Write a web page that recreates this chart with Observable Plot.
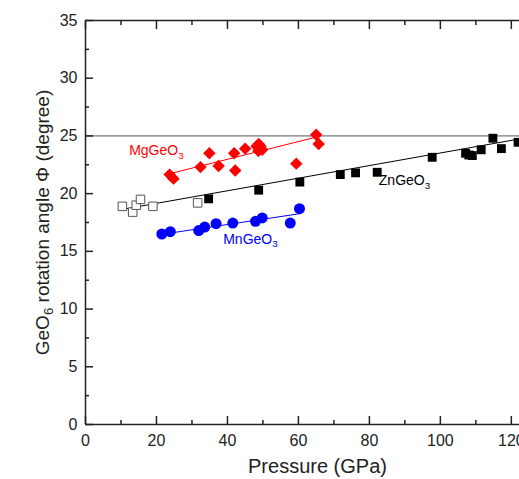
<!DOCTYPE html>
<html><head><meta charset="utf-8">
<script src="https://cdn.jsdelivr.net/npm/d3@7"></script>
<script src="https://cdn.jsdelivr.net/npm/@observablehq/plot@0.6"></script>
<style>body{margin:0;background:#fff} svg{display:block}</style>
</head><body><div id="chart"></div>
<script>
// MgGeO3 (red diamonds)
const mgP   = [23.7, 24.8, 32.4, 34.9, 37.5, 41.9, 42.2, 45.0, 48.2, 49.3, 48.7, 49.8, 48.8, 59.4, 65.0, 65.7];
const mgPhi = [21.65, 21.3, 22.3, 23.5, 22.4, 23.5, 22.0, 23.9, 24.1, 24.1, 23.7, 23.8, 24.3, 22.6, 25.1, 24.3];
const mgFitP = [23.9, 64.8];
const mgFitPhi = [21.74, 24.88];
// ZnGeO3 open squares (low pressure)
const znOpenP   = [10.4, 13.3, 14.3, 15.5, 19.0, 31.6];
const znOpenPhi = [18.9, 18.4, 19.0, 19.5, 18.9, 19.2];
// ZnGeO3 filled squares
const znP   = [34.7, 48.8, 60.4, 71.8, 76.1, 82.2, 97.7, 107.1, 108.0, 109.0, 111.5, 114.8, 117.2, 121.9];
const znPhi = [19.55, 20.3, 21.0, 21.65, 21.8, 21.85, 23.15, 23.5, 23.35, 23.3, 23.8, 24.8, 23.9, 24.45];
const znFitP = [9.8, 122.3];
const znFitPhi = [18.6, 24.74];
// MnGeO3 (blue circles)
const mnP   = [21.5, 23.9, 31.9, 33.6, 36.8, 41.5, 47.9, 49.8, 57.7, 60.3];
const mnPhi = [16.5, 16.7, 16.8, 17.1, 17.4, 17.45, 17.6, 17.9, 17.45, 18.7];
const mnFitP = [21.1, 60.1];
const mnFitPhi = [16.46, 18.25];
// reference line
const refPhi = [25];
// ticks
const xMajor = [0, 20, 40, 60, 80, 100, 120];
const xMinor = [10, 30, 50, 70, 90, 110];
const yMajor = [0, 5, 10, 15, 20, 25, 30, 35];
const yMinor = [2.5, 7.5, 12.5, 17.5, 22.5, 27.5, 32.5];
// labels
const seriesLabels = [
  {x: 12.3, y: 23.73, text: "MgGeO3", color: "#ff0000"},
  {x: 82.65, y: 21.13, text: "ZnGeO3", color: "#000000"},
  {x: 38.8, y: 16.03, text: "MnGeO3", color: "#0000ff"}
];
const xTitle = "Pressure (GPa)";
const yTitle = "GeO6 rotation angle Φ (degree)";

const zip = (xs, ys) => xs.map((x, i) => ({x, y: ys[i]}));
const mg = zip(mgP, mgPhi), mgFit = zip(mgFitP, mgFitPhi);
const znOpen = zip(znOpenP, znOpenPhi), zn = zip(znP, znPhi), znFit = zip(znFitP, znFitPhi);
const mn = zip(mnP, mnPhi), mnFit = zip(mnFitP, mnFitPhi);

const axisColor = "#222";
const chart = Plot.plot({
  width: 519, height: 479,
  marginLeft: 85, marginRight: 0, marginTop: 20, marginBottom: 55,
  x: {domain: [0, 122.3]},
  y: {domain: [0, 35]},
  style: {fontFamily: "'Liberation Sans', Arial, sans-serif", fontSize: "16px", color: axisColor, background: "#fff"},
  marks: [
    Plot.ruleY(refPhi, {stroke: "#555", strokeWidth: 1}),
    // axes with inward ticks
    Plot.axisX(xMajor, {tickSize: -8, tickPadding: 18, tickFormat: d => String(d), label: null, fontSize: 16, strokeWidth: 1.5}),
    Plot.axisX(xMinor, {tickSize: -4, tickFormat: () => "", label: null, strokeWidth: 1.5}),
    Plot.axisX(xMajor, {anchor: "top", tickSize: -8, tickFormat: () => "", label: null, strokeWidth: 1.5}),
    Plot.axisX(xMinor, {anchor: "top", tickSize: -4, tickFormat: () => "", label: null, strokeWidth: 1.5}),
    Plot.axisY(yMajor, {tickSize: -8, tickPadding: 16, tickFormat: d => String(d), label: null, fontSize: 16, strokeWidth: 1.5}),
    Plot.axisY(yMinor, {tickSize: -4, tickFormat: () => "", label: null, strokeWidth: 1.5}),
    // frame lines (left, bottom, top)
    Plot.ruleX([0], {stroke: axisColor, strokeWidth: 1.5}),
    Plot.ruleY([0, 35], {stroke: axisColor, strokeWidth: 1.5}),
    // fits
    Plot.line(znFit, {x: "x", y: "y", stroke: "#000", strokeWidth: 1}),
    Plot.line(mgFit, {x: "x", y: "y", stroke: "#ff0000", strokeWidth: 1}),
    Plot.line(mnFit, {x: "x", y: "y", stroke: "#0000ff", strokeWidth: 1}),
    // points
    Plot.dot(znOpen, {x: "x", y: "y", symbol: "square", fill: "#fff", stroke: "#555", strokeWidth: 1, r: 4.8}),
    Plot.dot(zn, {x: "x", y: "y", symbol: "square", fill: "#000", stroke: "none", r: 5}),
    Plot.dot(mg, {x: "x", y: "y", symbol: "diamond2", fill: "#ff0000", stroke: "none", r: 5.6}),
    Plot.dot(mn, {x: "x", y: "y", symbol: "circle", fill: "#0000ff", stroke: "none", r: 5.5}),
    // series labels
    Plot.text(seriesLabels, {x: "x", y: "y", text: "text", fill: "color", textAnchor: "start", fontSize: 14}),
    // axis titles
    Plot.text([xTitle], {frameAnchor: "bottom", text: d => d, dy: 48, dx: 15, fontSize: 20, fill: axisColor}),
    Plot.text([yTitle], {frameAnchor: "left", text: d => d, rotate: -90, textAnchor: "middle", dx: -43, fontSize: 19, fill: axisColor})
  ]
});

// subscripts for chemical formulas
chart.querySelectorAll("text").forEach(t => {
  const s = t.textContent;
  const m = s.match(/^(.*GeO)(\d)(.*)$/);
  if (!m || t.querySelector("tspan tspan")) return;
  const target = t.querySelector("tspan") || t;
  while (target.firstChild) target.removeChild(target.firstChild);
  target.appendChild(document.createTextNode(m[1]));
  const sub = document.createElementNS("http://www.w3.org/2000/svg", "tspan");
  sub.setAttribute("dy", "0.35em");
  sub.setAttribute("font-size", "0.7em");
  sub.textContent = m[2];
  target.appendChild(sub);
  if (m[3]) {
    const rest = document.createElementNS("http://www.w3.org/2000/svg", "tspan");
    rest.setAttribute("dy", "-0.25em");
    rest.textContent = m[3];
    target.appendChild(rest);
  }
});
document.getElementById("chart").appendChild(chart);
</script>
</body></html>
